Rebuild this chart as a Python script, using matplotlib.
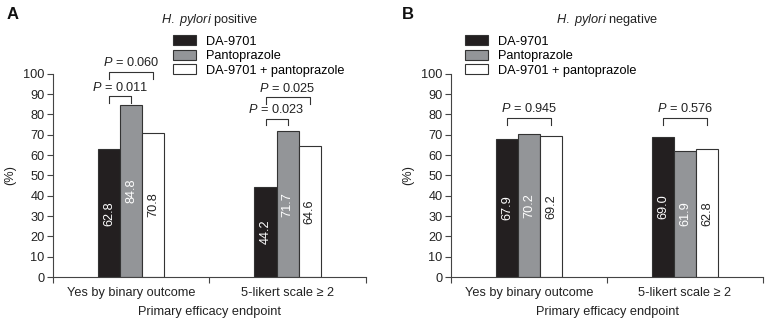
import matplotlib
matplotlib.use("Agg")
import matplotlib.pyplot as plt
import numpy as np

plt.rcParams['font.family'] = ['Liberation Sans', 'DejaVu Sans']
plt.rcParams['mathtext.fontset'] = 'custom'
plt.rcParams['mathtext.rm'] = 'Liberation Sans'
plt.rcParams['mathtext.it'] = 'Liberation Sans:italic'

categories = ["Yes by binary outcome", "5-likert scale \u2265 2"]
series_names = ["DA-9701", "Pantoprazole", "DA-9701 + pantoprazole"]
pos_values = [[62.8, 44.2], [84.8, 71.7], [70.8, 64.6]]
neg_values = [[67.9, 69.0], [70.2, 61.9], [69.2, 62.8]]
pos_title = "positive"
neg_title = "negative"
# (group, bar_from, bar_to, text, bracket height)
pos_pvals = [(0, 0, 1, "0.011", 89), (0, 0, 2, "0.060", 101),
             (1, 0, 1, "0.023", 78), (1, 0, 2, "0.025", 88.5)]
neg_pvals = [(0, 0, 2, "0.945", 78.3), (1, 0, 2, "0.576", 78.3)]

colors = ["#231f20", "#939598", "#ffffff"]
label_colors = ["white", "white", "#222222"]

fig = plt.figure(figsize=(7.7, 3.23), dpi=100)
axA = fig.add_axes([0.0688, 0.1424, 0.4062, 0.629])
axB = fig.add_axes([0.5857, 0.1424, 0.4053, 0.629])

width = 0.141
fs = 9.2

def draw(ax, values, pvals, title, letter, letter_x, legend_x):
    x = np.arange(len(categories))
    for i, vals in enumerate(values):
        xs = x + (i - 1) * width
        ax.bar(xs, vals, width, color=colors[i], edgecolor="#333333",
               linewidth=0.8, label=series_names[i], zorder=2)
        for xi, v in zip(xs, vals):
            ax.text(xi, v / 2, f"{v:.1f}", rotation=90, ha="center", va="center",
                    color=label_colors[i], fontsize=fs)
    for g, a, b, txt, h in pvals:
        x1 = x[g] + (a - 1) * width
        x2 = x[g] + (b - 1) * width
        ax.plot([x1, x1, x2, x2], [h - 3.3, h, h, h - 3.3], color="#333333",
                lw=0.8, clip_on=False)
        ax.text((x1 + x2) / 2, h + 1.2, "$\\it{P}$ = " + txt, ha="center",
                va="bottom", fontsize=fs, color="#222222", clip_on=False)
    ax.set_xlim(-0.5, 1.5)
    ax.set_ylim(0, 100)
    ax.set_yticks(np.arange(0, 101, 10))
    ax.set_xticks(x)
    ax.set_xticklabels(categories, fontsize=fs, color="#222222")
    ax.set_xticks([-0.5, 0.5, 1.5], minor=True)
    ax.tick_params(axis="x", which="major", length=0, pad=7)
    ax.tick_params(axis="x", which="minor", length=4, direction="out",
                   color="#444444", width=0.8)
    ax.tick_params(axis="y", length=4, direction="out", color="#444444",
                   width=0.8, labelsize=fs, labelcolor="#222222", pad=2)
    for s in ["top", "right"]:
        ax.spines[s].set_visible(False)
    for s in ["left", "bottom"]:
        ax.spines[s].set_color("#444444")
        ax.spines[s].set_linewidth(0.8)
    ax.set_ylabel("(%)", fontsize=fs, color="#222222", labelpad=5)
    ax.set_xlabel("Primary efficacy endpoint", fontsize=fs, color="#222222",
                  labelpad=5)
    ax.text(0.5, 1.265, "$\\it{H.\\ pylori}$ " + title,
            transform=ax.transAxes, ha="center", va="center",
            fontsize=fs, color="#222222")
    fig.text(letter_x, 0.955, letter, fontsize=12, fontweight="bold",
             ha="left", va="center", color="#111111")
    ax.legend(loc="upper left", bbox_to_anchor=(legend_x, 1.19),
              frameon=False, fontsize=fs, handlelength=1.8, handleheight=0.85,
              handletextpad=0.8, labelspacing=0.15, borderaxespad=0,
              borderpad=0)

draw(axA, pos_values, pos_pvals, pos_title, "A", 0.008, 0.383)
draw(axB, neg_values, neg_pvals, neg_title, "B", 0.522, 0.045)

fig.savefig("out.png", dpi=100)
